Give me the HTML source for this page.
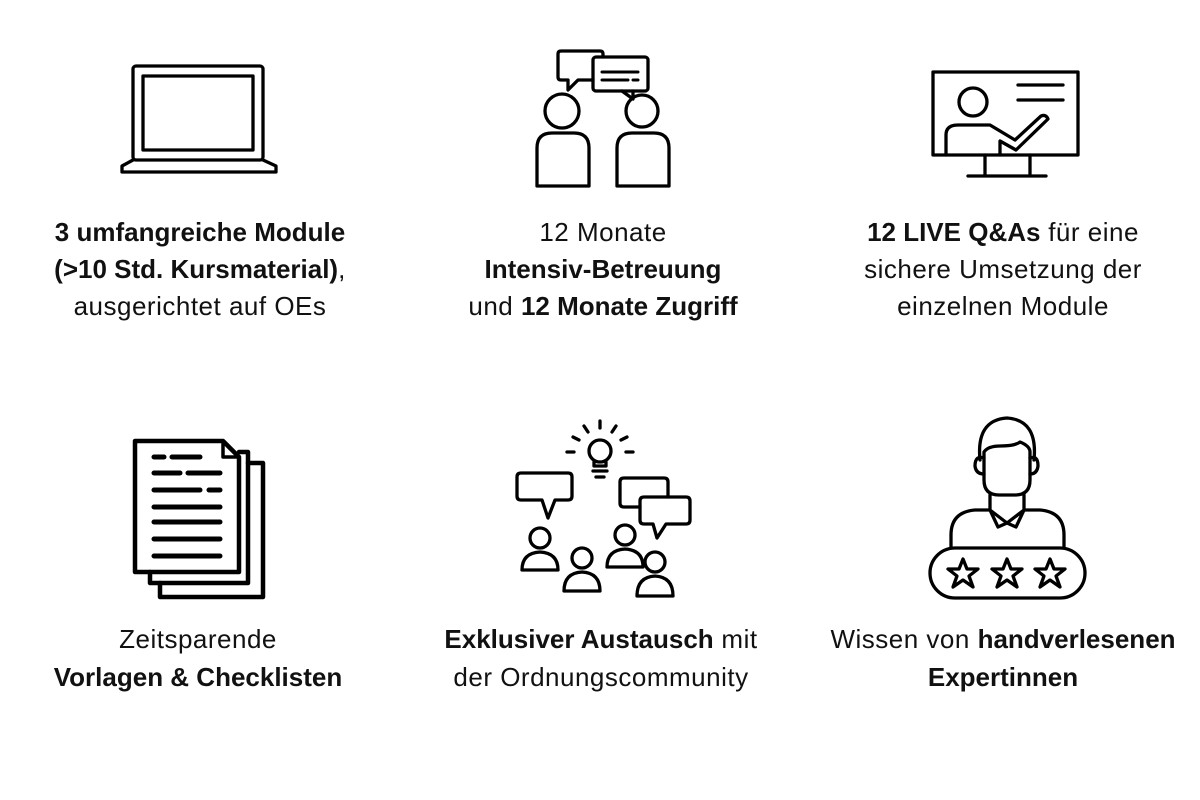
<!DOCTYPE html>
<html><head><meta charset="utf-8"><style>
html,body{margin:0;padding:0;background:#fff}
svg{display:block}
text{font-family:"Liberation Sans",sans-serif;font-size:26px;fill:#111;text-anchor:middle;letter-spacing:0.5px}
.b{font-weight:bold;letter-spacing:0}
</style></head><body>
<svg width="1200" height="800" viewBox="0 0 1200 800" xmlns="http://www.w3.org/2000/svg">
<g fill="none" stroke="#000" stroke-width="3.3" stroke-linejoin="round" stroke-linecap="round">
<!-- laptop -->
<rect x="133" y="66" width="130" height="94" rx="3"/>
<rect x="143" y="76" width="110" height="74"/>
<path d="M133 160 L122 166 L122 172 L276 172 L276 166 L263 160"/>
<!-- chat people -->
<path d="M561 51 H600 Q603 51 603 54 V57 M593 80 H578 L568 90 V80 H561 Q558 80 558 77 V54 Q558 51 561 51"/>
<rect x="593" y="57" width="55" height="34" rx="3"/>
<path d="M622 91 L633 99 V91"/>
<path d="M602 72 H638 M602 80 H628 M633 80 H638" stroke-width="3"/>
<circle cx="562" cy="111" r="17"/>
<circle cx="642" cy="111" r="16"/>
<path d="M537 186 V148 Q537 133 552 133 H574 Q589 133 589 148 V186 Z"/>
<path d="M617 186 V148 Q617 133 632 133 H654 Q669 133 669 148 V186 Z"/>
<!-- presentation -->
<rect x="933" y="72" width="145" height="83"/>
<circle cx="973" cy="102" r="14"/>
<path d="M1018 85 H1063 M1018 100 H1063"/>
<path d="M946 155 V135 Q946 125 958 125 H990 L1015 140 L1041 116 Q1046 114 1048 119 L1016 150 L1000 141 V155"/>
<path d="M985 155 V176 M1030 155 V176 M968 176 H1046"/>
<!-- documents -->
<path d="M135 441 H223 L239 457 V572 H135 Z" stroke-width="4.5"/>
<path d="M223 441 V457 H239" stroke-width="3.5"/>
<path d="M239 452 H248 V583 H150 V572" stroke-width="4.5"/>
<path d="M248 463 H263 V597 H160 V583" stroke-width="4.5"/>
<g stroke-width="5">
<path d="M154 457 H164 M172 457 H200"/>
<path d="M154 473 H180 M188 473 H220"/>
<path d="M154 490 H200 M209 490 H220"/>
<path d="M154 507 H220 M154 522 H220 M154 539 H220 M154 556 H220"/>
</g>
<!-- community -->
<circle cx="600" cy="451" r="11"/>
<path d="M594 462 V466 H606 V462 M593 471 H607 M596 477 H604"/>
<path d="M600 421 V428 M584 426 L588 432 M616 426 L612 432 M573 437 L579 440 M627 437 L621 440 M567 452 H574 M626 452 H633"/>
<path d="M521 473 H568 Q572 473 572 477 V496 Q572 500 568 500 H555 L548 518 L542 500 H521 Q517 500 517 496 V477 Q517 473 521 473 Z"/>
<path d="M640 507 H624 Q620 507 620 503 V482 Q620 478 624 478 H664 Q668 478 668 482 V497"/>
<path d="M644 497 H686 Q690 497 690 501 V520 Q690 524 686 524 H666 L657 538 L653 524 H644 Q640 524 640 520 V501 Q640 497 644 497 Z"/>
<circle cx="540" cy="538" r="10"/>
<path d="M522 570 Q522 553 540 552 Q558 553 558 570 Z"/>
<circle cx="582" cy="558" r="10"/>
<path d="M564 591 Q564 573 582 572 Q600 573 600 591 Z"/>
<circle cx="625" cy="535" r="10"/>
<path d="M607 567 Q607 550 625 549 Q643 550 643 567 Z"/>
<circle cx="655" cy="562" r="10"/>
<path d="M637 596 Q637 577 655 576 Q673 577 673 596 Z"/>
<!-- expert -->
<path d="M980 460 Q976 420 1007 418 Q1038 420 1034 460"/>
<path d="M984 452 Q988 446 1000 446 Q1015 446 1020 442 Q1030 446 1030 452 V480 Q1030 495 1015 495 H999 Q984 495 984 480 Z"/>
<path d="M984 458 Q975 455 975 466 Q976 474 984 474 M1030 458 Q1038 455 1038 466 Q1037 474 1030 474"/>
<path d="M990 495 V510 L1007 523 L1024 510 V495 M990 510 L998 527 L1007 523 L1016 527 L1024 510"/>
<path d="M951 547 V535 Q951 512 975 510 H990 M1024 510 H1040 Q1064 512 1064 535 V547"/>
<rect x="930" y="548" width="155" height="50" rx="25"/>
<path d="M963 559 L967 569 L978 569 L969 576 L973 587 L963 580 L953 587 L957 576 L948 569 L959 569 Z"/>
<path d="M1007 559 L1011 569 L1022 569 L1013 576 L1017 587 L1007 580 L997 587 L1001 576 L992 569 L1003 569 Z"/>
<path d="M1050 559 L1054 569 L1065 569 L1056 576 L1060 587 L1050 580 L1040 587 L1044 576 L1035 569 L1046 569 Z"/>
</g>
<text x="200" y="241" class="b">3 umfangreiche Module</text>
<text x="200" y="278"><tspan class="b">(&gt;10 Std. Kursmaterial)</tspan>,</text>
<text x="200" y="315">ausgerichtet auf OEs</text>
<text x="603" y="241">12 Monate</text>
<text x="603" y="278" class="b">Intensiv-Betreuung</text>
<text x="603" y="315">und <tspan class="b">12 Monate Zugriff</tspan></text>
<text x="1003" y="241"><tspan class="b">12 LIVE Q&amp;As</tspan> für eine</text>
<text x="1003" y="278">sichere Umsetzung der</text>
<text x="1003" y="315">einzelnen Module</text>
<text x="198" y="648">Zeitsparende</text>
<text x="198" y="686" class="b">Vorlagen &amp; Checklisten</text>
<text x="601" y="648"><tspan class="b">Exklusiver Austausch</tspan> mit</text>
<text x="601" y="686">der Ordnungscommunity</text>
<text x="1003" y="648">Wissen von <tspan class="b">handverlesenen</tspan></text>
<text x="1003" y="686" class="b">Expertinnen</text>
</svg>
</body></html>
